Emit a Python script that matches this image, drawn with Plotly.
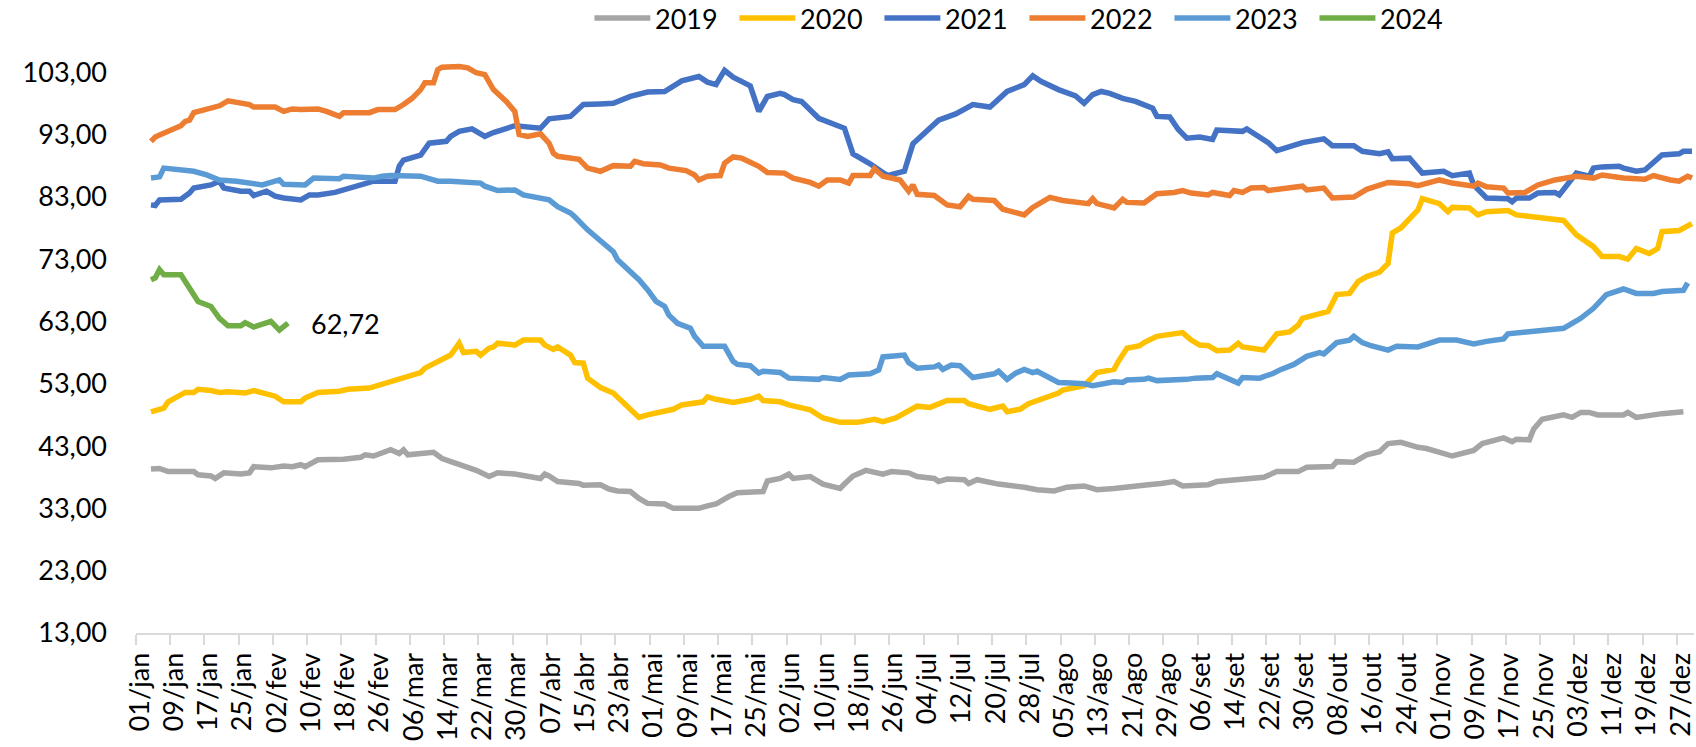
import plotly.graph_objects as go

# Eixo X: dias do ano (0 = 01/jan), com rótulo a cada 8 dias
ROTULOS_X = [
    "01/jan", "09/jan", "17/jan", "25/jan", "02/fev", "10/fev", "18/fev", "26/fev",
    "06/mar", "14/mar", "22/mar", "30/mar", "07/abr", "15/abr", "23/abr", "01/mai",
    "09/mai", "17/mai", "25/mai", "02/jun", "10/jun", "18/jun", "26/jun", "04/jul",
    "12/jul", "20/jul", "28/jul", "05/ago", "13/ago", "21/ago", "29/ago", "06/set",
    "14/set", "22/set", "30/set", "08/out", "16/out", "24/out", "01/nov", "09/nov",
    "17/nov", "25/nov", "03/dez", "11/dez", "19/dez", "27/dez",
]
PASSO_ROTULO = 8

DIAS_2019 = [3, 5, 7, 13, 14, 17, 18, 20, 24, 26, 27, 31, 34, 36, 38, 39, 42, 48, 52, 53, 55, 59, 61, 62, 63,
             68, 69, 71, 75, 77, 79, 82, 84, 88, 94, 95, 96, 98, 103, 104, 108, 110, 112, 115, 117, 119,
             123, 125, 131, 133, 135, 138, 140, 146, 147, 150, 152, 153, 157, 160, 164, 165, 167, 170,
             174, 176, 180, 182, 186, 187, 189, 193, 194, 196, 201, 207, 210, 214, 217, 221, 224, 228,
             232, 236, 239, 242, 244, 250, 252, 256, 263, 266, 271, 273, 277, 279, 280, 284, 287, 290,
             292, 295, 299, 301, 307, 308, 312, 314, 319, 321, 322, 325, 326, 328, 331, 333, 335, 337,
             339, 341, 347, 348, 350, 353, 356, 361]
VAL_2019 = [39.3, 39.4, 38.9, 38.9, 38.4, 38.2, 37.8, 38.7, 38.5, 38.7, 39.7, 39.5, 39.8, 39.7, 40.0, 39.7,
            40.8, 40.9, 41.2, 41.6, 41.4, 42.4, 41.8, 42.4, 41.6, 42.0, 42.0, 41.0, 40.1, 39.7, 39.1, 38.1,
            38.7, 38.5, 37.8, 38.5, 38.2, 37.3, 37.0, 36.7, 36.8, 36.1, 35.8, 35.7, 34.6, 33.8, 33.7, 33.0,
            33.0, 33.4, 33.7, 34.9, 35.5, 35.7, 37.4, 37.8, 38.5, 37.8, 38.1, 36.9, 36.2, 36.9, 38.2, 39.1,
            38.5, 38.9, 38.7, 38.1, 37.8, 37.3, 37.7, 37.6, 37.0, 37.6, 36.9, 36.4, 36.0, 35.8, 36.4, 36.6,
            36.0, 36.2, 36.6, 36.8, 37.0, 37.3, 36.6, 36.8, 37.3, 37.6, 38.0, 38.9, 38.9, 39.6, 39.8, 39.7,
            40.5, 40.4, 41.6, 42.1, 43.4, 43.6, 42.8, 42.6, 41.4, 41.6, 42.3, 43.4, 44.3, 43.7, 44.1, 44.0,
            45.7, 47.3, 47.6, 48.0, 47.6, 48.4, 48.4, 48.0, 48.0, 48.4, 47.6, 48.0, 48.2, 48.5]

DIAS_2020 = [3, 5, 6, 7, 10, 11, 13, 14, 17, 19, 21, 25, 27, 29, 32, 34, 38, 39, 42, 47, 49, 54, 56, 60, 63,
             66, 67, 70, 73, 75, 76, 79, 80, 82, 83, 84, 88, 90, 94, 95, 97, 98, 101, 102, 104, 105, 108,
             111, 114, 117, 119, 123, 125, 127, 130, 132, 133, 135, 139, 143, 145, 146, 150, 152, 157,
             160, 164, 168, 172, 174, 177, 179, 182, 185, 189, 193, 194, 199, 202, 203, 206, 208, 212,
             215, 216, 221, 224, 228, 229, 231, 234, 235, 238, 243, 244, 246, 248, 250, 252, 255, 257,
             258, 263, 266, 269, 271, 272, 278, 279, 280, 283, 285, 287, 290, 292, 293, 295, 297, 299,
             300, 304, 306, 307, 311, 313, 315, 320, 322, 326, 328, 333, 336, 340, 342, 346, 348, 350,
             353, 355, 356, 360, 363]
VAL_2020 = [48.5, 48.9, 49.1, 50.1, 51.2, 51.6, 51.6, 52.1, 51.9, 51.6, 51.7, 51.5, 51.9, 51.5, 51.0, 50.1,
            50.1, 50.7, 51.6, 51.8, 52.1, 52.3, 52.7, 53.5, 54.2, 54.8, 55.5, 56.6, 57.6, 59.5, 58.0, 58.2,
            57.6, 58.7, 58.9, 59.5, 59.2, 60.0, 60.0, 59.2, 58.5, 58.9, 57.6, 56.4, 56.3, 53.9, 52.4, 51.5,
            49.6, 47.6, 48.0, 48.5, 48.9, 49.6, 50.0, 50.1, 50.9, 50.5, 50.0, 50.5, 51.0, 50.3, 50.1, 49.6,
            48.8, 47.5, 46.8, 46.8, 47.3, 46.9, 47.5, 48.3, 49.4, 49.2, 50.3, 50.3, 49.8, 48.9, 49.4, 48.5,
            48.9, 49.8, 50.7, 51.5, 52.0, 52.7, 54.8, 55.3, 56.6, 58.7, 59.1, 59.6, 60.6, 61.0, 61.2, 60.0,
            59.2, 59.1, 58.3, 58.4, 59.5, 58.9, 58.4, 61.0, 61.3, 62.4, 63.5, 64.6, 66.2, 67.3, 67.5, 69.4,
            70.2, 70.9, 72.3, 77.2, 78.0, 79.3, 80.9, 82.7, 81.9, 80.6, 81.3, 81.2, 80.1, 80.6, 80.8, 80.1,
            79.8, 79.6, 79.2, 76.9, 75.0, 73.4, 73.4, 73.0, 74.7, 73.9, 74.7, 77.4, 77.6, 78.7]

DIAS_2021 = [3, 4, 5, 10, 12, 13, 17, 19, 20, 24, 26, 27, 30, 32, 34, 38, 40, 42, 46, 48, 54, 55, 60, 61, 62,
             66, 68, 72, 73, 75, 78, 79, 81, 83, 84, 88, 94, 96, 101, 104, 108, 111, 115, 119, 123, 127,
             131, 133, 135, 137, 139, 143, 145, 147, 150, 151, 153, 155, 159, 163, 165, 167, 171, 175,
             179, 181, 183, 187, 191, 195, 199, 203, 207, 209, 211, 215, 219, 221, 223, 225, 227, 230,
             233, 235, 237, 238, 241, 243, 245, 248, 251, 252, 255, 258, 259, 262, 264, 266, 270, 272,
             277, 279, 284, 286, 290, 292, 293, 297, 300, 305, 307, 311, 312, 315, 320, 321, 322, 325,
             327, 331, 332, 334, 336, 339, 340, 342, 346, 347, 350, 352, 354, 356, 360, 361, 363]
VAL_2021 = [81.7, 81.6, 82.5, 82.6, 83.6, 84.4, 84.9, 85.5, 84.4, 83.9, 83.9, 83.2, 83.9, 83.1, 82.8, 82.5,
            83.3, 83.3, 83.7, 84.1, 85.2, 85.5, 85.5, 87.9, 88.9, 89.7, 91.6, 91.9, 92.7, 93.5, 93.9, 93.5,
            92.7, 93.3, 93.5, 94.4, 94.0, 95.5, 95.9, 97.8, 97.9, 98.0, 99.1, 99.8, 99.9, 101.6, 102.3,
            101.4, 101.0, 103.3, 102.2, 100.8, 96.7, 99.1, 99.6, 99.4, 98.6, 98.3, 95.6, 94.4, 94.0, 89.9,
            88.3, 86.4, 87.1, 91.5, 92.7, 95.3, 96.3, 97.8, 97.4, 99.9, 101.0, 102.4, 101.5, 100.2, 99.2,
            98.0, 99.4, 99.9, 99.6, 98.8, 98.3, 97.8, 97.2, 95.9, 95.8, 93.8, 92.4, 92.6, 92.2, 93.7, 93.7,
            93.5, 93.9, 92.7, 91.7, 90.4, 91.4, 91.7, 92.3, 91.2, 91.2, 90.3, 89.9, 90.2, 89.1, 89.2, 86.8,
            87.1, 86.4, 86.8, 84.9, 82.8, 82.7, 82.2, 82.8, 82.8, 83.6, 83.7, 83.3, 84.9, 86.8, 86.3, 87.6,
            87.8, 87.9, 87.6, 87.1, 87.3, 88.4, 89.7, 89.9, 90.3, 90.3]

DIAS_2022 = [3, 4, 5, 7, 10, 11, 12, 13, 17, 19, 21, 25, 26, 27, 32, 34, 36, 38, 42, 44, 47, 48, 54, 56, 60,
             62, 64, 66, 67, 69, 70, 71, 75, 77, 79, 81, 83, 86, 88, 89, 91, 94, 96, 97, 98, 103, 105,
             108, 110, 111, 115, 116, 118, 122, 124, 128, 130, 131, 133, 136, 137, 139, 141, 145, 147,
             151, 153, 157, 159, 161, 164, 166, 167, 171, 172, 174, 178, 180, 181, 182, 186, 189, 192,
             194, 195, 200, 202, 207, 209, 213, 216, 222, 223, 224, 228, 230, 231, 235, 237, 238, 242,
             244, 246, 250, 251, 255, 256, 258, 260, 263, 264, 267, 272, 273, 277, 279, 284, 287, 292,
             297, 299, 304, 307, 312, 313, 315, 319, 320, 324, 327, 331, 336, 340, 342, 347, 352, 354,
             358, 360, 362, 363]
VAL_2022 = [91.9, 92.6, 92.9, 93.5, 94.4, 95.1, 95.3, 96.5, 97.1, 97.6, 98.4, 97.8, 97.8, 97.4, 97.4, 96.7,
            97.1, 97.0, 97.1, 96.7, 95.9, 96.5, 96.5, 97.0, 97.0, 97.8, 98.8, 100.2, 101.3, 101.3, 103.4,
            103.8, 103.9, 103.7, 102.9, 102.6, 100.2, 98.3, 96.7, 93.0, 92.7, 93.1, 91.6, 90.0, 89.5, 89.0,
            87.6, 87.1, 87.6, 88.0, 87.9, 88.7, 88.3, 88.1, 87.6, 87.2, 86.5, 85.7, 86.3, 86.4, 88.4, 89.4,
            89.2, 87.9, 86.9, 86.8, 86.0, 85.3, 84.7, 85.7, 85.7, 85.2, 86.4, 86.4, 87.5, 86.3, 85.7, 83.9,
            84.9, 83.4, 83.2, 81.7, 81.4, 83.1, 82.6, 82.4, 81.0, 80.1, 81.3, 82.9, 82.4, 81.9, 82.7, 81.9,
            81.2, 82.6, 82.1, 82.0, 83.0, 83.5, 83.7, 84.0, 83.6, 83.3, 83.7, 83.2, 84.0, 83.7, 84.4, 84.5,
            84.0, 84.2, 84.7, 84.1, 84.4, 82.8, 82.95, 84.2, 85.3, 85.1, 84.8, 85.7, 85.2, 84.7, 85.2, 84.6,
            84.4, 83.6, 83.7, 84.9, 85.7, 86.3, 86.0, 86.5, 86.0, 85.8, 86.4, 85.7, 85.5, 86.3, 86.0]

DIAS_2023 = [3, 5, 6, 11, 13, 16, 19, 23, 26, 29, 31, 33, 34, 39, 41, 47, 48, 54, 55, 57, 59, 66, 68, 70, 73,
             80, 81, 84, 88, 90, 96, 98, 101, 102, 105, 107, 108, 111, 112, 115, 117, 119, 121, 123, 124,
             126, 129, 130, 132, 137, 139, 140, 143, 145, 146, 150, 152, 159, 160, 164, 166, 171, 173,
             174, 179, 180, 182, 186, 187, 188, 190, 192, 195, 200, 201, 203, 205, 207, 209, 210, 213,
             215, 218, 221, 223, 228, 230, 231, 235, 236, 238, 242, 244, 245, 247, 251, 252, 255, 257,
             258, 262, 264, 265, 267, 270, 273, 276, 277, 280, 283, 284, 286, 288, 292, 294, 299, 304,
             308, 312, 315, 319, 320, 327, 329, 333, 335, 337, 340, 343, 347, 350, 354, 356, 361, 362]
VAL_2023 = [86.0, 86.2, 87.6, 87.2, 87.1, 86.5, 85.7, 85.5, 85.2, 84.9, 85.3, 85.7, 85.0, 84.9, 86.0, 85.9,
            86.3, 86.2, 86.0, 86.3, 86.4, 86.3, 86.0, 85.5, 85.5, 85.2, 84.7, 84.0, 84.1, 83.3, 82.5, 81.4,
            80.4, 79.8, 77.7, 76.5, 76.1, 74.2, 72.9, 71.0, 69.7, 68.1, 66.2, 65.4, 64.0, 62.7, 61.9, 60.6,
            59.0, 59.0, 56.6, 56.1, 55.9, 54.7, 55.0, 54.8, 53.9, 53.7, 54.0, 53.7, 54.4, 54.6, 55.2, 57.3,
            57.6, 56.4, 55.5, 55.7, 56.0, 55.3, 56.0, 55.9, 54.0, 54.6, 55.0, 53.7, 54.7, 55.3, 54.8, 55.0,
            53.9, 53.2, 53.1, 53.0, 52.7, 53.3, 53.2, 53.6, 53.7, 53.9, 53.5, 53.5, 53.7, 53.7, 53.9, 54.0,
            54.6, 53.6, 53.1, 54.0, 53.9, 54.4, 54.6, 55.3, 56.1, 57.4, 58.0, 57.8, 59.6, 60.0, 60.6, 59.6,
            59.1, 58.4, 59.0, 58.9, 60.0, 60.0, 59.4, 59.8, 60.2, 61.0, 61.4, 61.6, 61.9, 62.7, 63.5, 65.1,
            67.3, 68.2, 67.5, 67.5, 67.8, 68.0, 69.2]

DIAS_2024 = [3, 4, 5, 6, 10, 12, 14, 17, 19, 21, 24, 25, 27, 31, 33, 35]
VAL_2024 = [69.7, 70.0, 71.3, 70.5, 70.5, 68.3, 66.2, 65.4, 63.5, 62.3, 62.3, 62.8, 62.1, 63.0, 61.6, 62.72]

SERIES = [
    ("2019", DIAS_2019, VAL_2019, "#A5A5A5"),
    ("2020", DIAS_2020, VAL_2020, "#FFC000"),
    ("2021", DIAS_2021, VAL_2021, "#4472C4"),
    ("2022", DIAS_2022, VAL_2022, "#ED7D31"),
    ("2023", DIAS_2023, VAL_2023, "#5B9BD5"),
    ("2024", DIAS_2024, VAL_2024, "#70AD47"),
]

FONTE = "Lato, 'Open Sans', sans-serif"
LARGURA, ALTURA = 1696, 747
ESQ, DIR, TOPO, BASE = 136, 0, 41, 114   # margens (px)
PX_POR_DIA = 4.286
Y_MIN, Y_MAX = 13, 108
ESPESSURA = 5.5

fig = go.Figure()
for nome, dias, vals, cor in SERIES:
    fig.add_trace(go.Scatter(
        x=dias, y=vals, mode="lines", name=nome,
        line=dict(color=cor, width=ESPESSURA),
        showlegend=False,
    ))

# rótulo do último valor de 2024
fig.add_annotation(
    x=DIAS_2024[-1], y=VAL_2024[-1],
    text=f"{VAL_2024[-1]:.2f}".replace(".", ","),
    showarrow=False, xanchor="left", yanchor="middle", xshift=21,
    font=dict(family=FONTE, size=27, color="black"),
)

# legenda horizontal no topo (linha + texto), em pixels convertidos para "paper"
area_w = LARGURA - ESQ - DIR
area_h = ALTURA - TOPO - BASE


def px_x(px):
    return (px - ESQ) / area_w


def px_y(py):
    return (ALTURA - BASE - py) / area_h


LEG_X0, LEG_PASSO, LEG_LINHA, LEG_Y = 595, 145.2, 56, 18
for i, (nome, _, _, cor) in enumerate(SERIES):
    x0 = LEG_X0 + i * LEG_PASSO
    fig.add_shape(
        type="line", xref="paper", yref="paper",
        x0=px_x(x0), x1=px_x(x0 + LEG_LINHA), y0=px_y(LEG_Y), y1=px_y(LEG_Y),
        line=dict(color=cor, width=ESPESSURA),
    )
    fig.add_annotation(
        xref="paper", yref="paper", x=px_x(x0 + LEG_LINHA + 3), y=px_y(LEG_Y + 0.5),
        text=nome, showarrow=False, xanchor="left", yanchor="middle",
        font=dict(family=FONTE, size=27, color="black"),
    )

rot_pos = [k * PASSO_ROTULO + 0.4 for k in range(len(ROTULOS_X))]
marcas = [k * PASSO_ROTULO - 0.5 for k in range(len(ROTULOS_X))]

fig.update_layout(
    width=LARGURA, height=ALTURA,
    margin=dict(l=ESQ, r=DIR, t=TOPO, b=BASE, pad=0),
    plot_bgcolor="white", paper_bgcolor="white",
    separators=",.",
    font=dict(family=FONTE, color="black"),
    xaxis=dict(
        range=[-0.5, -0.5 + area_w / PX_POR_DIA],
        tickmode="array", tickvals=rot_pos, ticktext=ROTULOS_X,
        tickangle=-90, ticks="", ticklabelstandoff=7,
        ticklabeloverflow="allow",
        tickfont=dict(family=FONTE, size=27, color="black"),
        showline=True, linecolor="#D9D9D9", linewidth=2,
        showgrid=False, zeroline=False,
        minor=dict(tickmode="array", tickvals=marcas, ticks="outside",
                   ticklen=10, tickwidth=2, tickcolor="#D9D9D9", showgrid=False),
    ),
    yaxis=dict(
        range=[Y_MIN, Y_MAX], tickmode="linear", tick0=13, dtick=10,
        tickformat=".2f", ticks="", ticklabelstandoff=28,
        tickfont=dict(family=FONTE, size=27, color="black"),
        showline=False, showgrid=False, zeroline=False,
    ),
)

fig.write_html("out.html")
